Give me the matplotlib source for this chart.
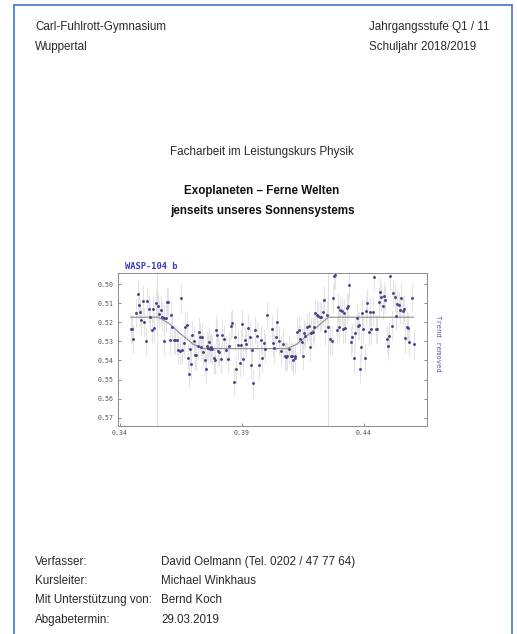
import numpy as np
import matplotlib
matplotlib.use("Agg")
import matplotlib.pyplot as plt
from matplotlib.lines import Line2D

# Lichtkurve WASP-104 b (Phase, relative Helligkeit)
phase = [
    0.3444, 0.3449, 0.3455, 0.3464, 0.3473, 0.3477, 0.3482, 0.3487, 0.3493, 0.3499,
    0.3505, 0.3512, 0.3519, 0.3523, 0.3530, 0.3534, 0.3540, 0.3548, 0.3556, 0.3562,
    0.3567, 0.3573, 0.3579, 0.3582, 0.3588, 0.3593, 0.3598, 0.3605, 0.3610, 0.3615,
    0.3622, 0.3627, 0.3633, 0.3638, 0.3644, 0.3651, 0.3656, 0.3663, 0.3667, 0.3673,
    0.3677, 0.3681, 0.3688, 0.3693, 0.3697, 0.3703, 0.3708, 0.3712, 0.3718, 0.3722,
    0.3729, 0.3733, 0.3737, 0.3742, 0.3748, 0.3752, 0.3756, 0.3760, 0.3766, 0.3770,
    0.3774, 0.3779, 0.3784, 0.3789, 0.3792, 0.3797, 0.3803, 0.3807, 0.3812, 0.3818,
    0.3825, 0.3833, 0.3841, 0.3847, 0.3855, 0.3860, 0.3866, 0.3873, 0.3875, 0.3884,
    0.3890, 0.3895, 0.3900, 0.3905, 0.3912, 0.3918, 0.3925, 0.3932, 0.3937, 0.3942,
    0.3947, 0.3952, 0.3962, 0.3970, 0.3977, 0.3984, 0.3989, 0.3996, 0.4003,
    0.4022, 0.4026, 0.4031, 0.4039, 0.4045, 0.4053, 0.4060, 0.4067, 0.4075, 0.4080,
    0.4086, 0.4094, 0.4100, 0.4105, 0.4110, 0.4116, 0.4119, 0.4127, 0.4132, 0.4138,
    0.4145, 0.4151, 0.4156, 0.4160, 0.4168, 0.4173, 0.4179, 0.4184, 0.4190, 0.4195,
    0.4201, 0.4206, 0.4213, 0.4220, 0.4225, 0.4231, 0.4236, 0.4242, 0.4247, 0.4254,
    0.4261, 0.4268, 0.4272, 0.4278, 0.4283, 0.4288, 0.4292, 0.4296, 0.4302, 0.4309,
    0.4313, 0.4318, 0.4324, 0.4329, 0.4334, 0.4340, 0.4347, 0.4352, 0.4359, 0.4365,
    0.4370, 0.4375, 0.4380, 0.4384, 0.4389, 0.4393, 0.4397, 0.4403, 0.4408, 0.4414,
    0.4419, 0.4425, 0.4430, 0.4436, 0.4441, 0.4448, 0.4455, 0.4460, 0.4466, 0.4471,
    0.4477, 0.4482, 0.4487, 0.4493, 0.4500, 0.4504, 0.4508, 0.4513, 0.4520, 0.4526,
    0.4531, 0.4537, 0.4542, 0.4548, 0.4553, 0.4559, 0.4564, 0.4569, 0.4575, 0.4579,
    0.4586, 0.4595, 0.4603,
]
flux = [
    0.5233, 0.5236, 0.5287, 0.5152, 0.5053, 0.5109, 0.5147, 0.5187, 0.5086, 0.5196,
    0.5298, 0.5088, 0.5130, 0.5170, 0.5240, 0.5131, 0.5228, 0.5100, 0.5114, 0.5158,
    0.5135, 0.5170, 0.5179, 0.5296, 0.5177, 0.5091, 0.5095, 0.5292, 0.5161, 0.5222,
    0.5292, 0.5292, 0.5292, 0.5345, 0.5349, 0.5074, 0.5345, 0.5310, 0.5222, 0.5215,
    0.5389, 0.5471, 0.5341, 0.5420, 0.5266, 0.5296, 0.5371, 0.5373, 0.5322, 0.5249,
    0.5278, 0.5329, 0.5278, 0.5354, 0.5397, 0.5443, 0.5324, 0.5334, 0.5301, 0.5340,
    0.5329, 0.5341, 0.5389, 0.5397, 0.5240, 0.5264, 0.5350, 0.5355, 0.5392, 0.5264,
    0.5289, 0.5345, 0.5392, 0.5326, 0.5217, 0.5205, 0.5513, 0.5275, 0.5445, 0.5317,
    0.5413, 0.5317, 0.5207, 0.5394, 0.5292, 0.5313, 0.5231, 0.5275, 0.5424, 0.5345,
    0.5520, 0.5240, 0.5271, 0.5422, 0.5292, 0.5389, 0.5310, 0.5338, 0.5161,
    0.5236, 0.5306, 0.5336, 0.5278, 0.5196, 0.5296, 0.5348, 0.5313, 0.5376, 0.5380,
    0.5376, 0.5341, 0.5376, 0.5376, 0.5397, 0.5389, 0.5376, 0.5249, 0.5240, 0.5289,
    0.5301, 0.5376, 0.5257, 0.5271, 0.5226, 0.5219, 0.5327, 0.5254, 0.5252, 0.5226,
    0.5152, 0.5161, 0.5166, 0.5170, 0.5173, 0.5144, 0.5082, 0.5243, 0.5161, 0.5222,
    0.5289, 0.5296, 0.5074, 0.4956, 0.4951, 0.5240, 0.5121, 0.5226, 0.5135, 0.5140,
    0.5235, 0.5152, 0.5231, 0.5126, 0.5114, 0.5004, 0.5301, 0.5278, 0.5389, 0.5257,
    0.5179, 0.5219, 0.5214, 0.5443, 0.5327, 0.5152, 0.5233, 0.5389, 0.5138, 0.5100,
    0.5249, 0.5144, 0.5233, 0.5144, 0.4960, 0.5235, 0.5235, 0.5091, 0.5039, 0.5068,
    0.5114, 0.5061, 0.5082, 0.5289, 0.5324, 0.5271, 0.4956, 0.5217, 0.5047, 0.5068,
    0.5166, 0.5103, 0.5109, 0.5135, 0.5070, 0.5138, 0.5131, 0.5284, 0.5222, 0.5228,
    0.5301, 0.5070, 0.5315,
]
flux_err = 0.0075

# angepasster Trend (Modellkurve)
trend_phase = [0.3444, 0.3557, 0.3600, 0.3650, 0.3700, 0.3740, 0.4084, 0.4124,
               0.4174, 0.4224, 0.4254, 0.4603]
trend_flux = [0.5173, 0.5173, 0.5205, 0.5262, 0.5315, 0.5338, 0.5338, 0.5315,
              0.5262, 0.5205, 0.5173, 0.5173]

# Beginn / Ende des Transits
contacts = [0.3550, 0.4254]

xticks = [0.34, 0.39, 0.44]
yticks = [0.50, 0.51, 0.52, 0.53, 0.54, 0.55, 0.56, 0.57]

W, H = 517, 634
fig = plt.figure(figsize=(W / 100, H / 100), dpi=100)
fig.patch.set_facecolor("white")


def fx(px):
    return px / W


def fy(py):
    return 1 - py / H


# blauer Seitenrahmen
border = "#4f7fd6"
for xs, ys in [([14, 14], [5, H + 5]), ([14, 512], [5, 5]), ([512, 512], [5, H + 5])]:
    fig.add_artist(Line2D([fx(v) for v in xs], [fy(v) for v in ys],
                          color=border, lw=1.3, transform=fig.transFigure))

sans = "Liberation Sans"
txt = "#2a2a2a"
fs = 8.4

fig.text(fx(35), fy(27), "Carl-Fuhlrott-Gymnasium", family=sans, size=fs, color=txt, va="center")
fig.text(fx(35), fy(47), "Wuppertal", family=sans, size=fs, color=txt, va="center")
fig.text(fx(369), fy(27), "Jahrgangsstufe Q1 / 11", family=sans, size=fs, color=txt, va="center")
fig.text(fx(369), fy(47), "Schuljahr 2018/2019", family=sans, size=fs, color=txt, va="center")

fig.text(fx(262), fy(152), "Facharbeit im Leistungskurs Physik", family=sans, size=fs,
         color=txt, ha="center", va="center")
fig.text(fx(262), fy(191), "Exoplaneten – Ferne Welten", family=sans, size=fs,
         weight="bold", color="#111111", ha="center", va="center")
fig.text(fx(262), fy(211), "jenseits unseres Sonnensystems", family=sans, size=fs,
         weight="bold", color="#111111", ha="center", va="center")

labels = ["Verfasser:", "Kursleiter:", "Mit Unterstützung von:", "Abgabetermin:"]
values = ["David Oelmann (Tel. 0202 / 47 77 64)", "Michael Winkhaus", "Bernd Koch", "29.03.2019"]
for i, (lab, val) in enumerate(zip(labels, values)):
    yy = 562 + i * 19.2
    fig.text(fx(35), fy(yy), lab, family=sans, size=fs, color=txt, va="center")
    fig.text(fx(161), fy(yy), val, family=sans, size=fs, color=txt, va="center")

# Lichtkurve
ax = fig.add_axes([fx(118), fy(426), fx(427) - fx(118), fy(273) - fy(426)])
ax.set_xlim(0.3392, 0.4658)
ax.set_ylim(0.5744, 0.4941)

for c in contacts:
    ax.axvline(c, color="#e0e0e0", lw=0.8, zorder=1)

ax.errorbar(phase, flux, yerr=flux_err, fmt="none", ecolor="#e4e4e4", elinewidth=0.8, zorder=2)
ax.plot(trend_phase, trend_flux, color="#8c8c8c", lw=0.8, zorder=3)
ax.plot(phase, flux, "o", color="#44448a", markersize=2.1, markeredgewidth=0, zorder=4)

ax.set_xticks(xticks)
ax.set_xticklabels([f"{v:.2f}" for v in xticks])
ax.set_yticks(yticks)
ax.set_yticklabels([f"{v:.2f}" for v in yticks])
ax.tick_params(direction="in", length=2.5, width=0.6, color="#777777",
               labelsize=4.8, labelcolor="#555555", right=True, pad=3)
for lab in ax.get_xticklabels() + ax.get_yticklabels():
    lab.set_family("DejaVu Sans Mono")
for sp in ax.spines.values():
    sp.set_color("#8a8a8a")
    sp.set_linewidth(0.7)

fig.text(fx(125), fy(266), "WASP-104 b", family="DejaVu Sans Mono", weight="bold",
         size=6.3, color="#3a3ac0", va="center")
fig.text(fx(438), fy(343), "Trend removed", family="DejaVu Sans Mono", size=5.2,
         color="#5a5aa0", rotation=270, ha="center", va="center")

fig.savefig("out.png", dpi=100)
